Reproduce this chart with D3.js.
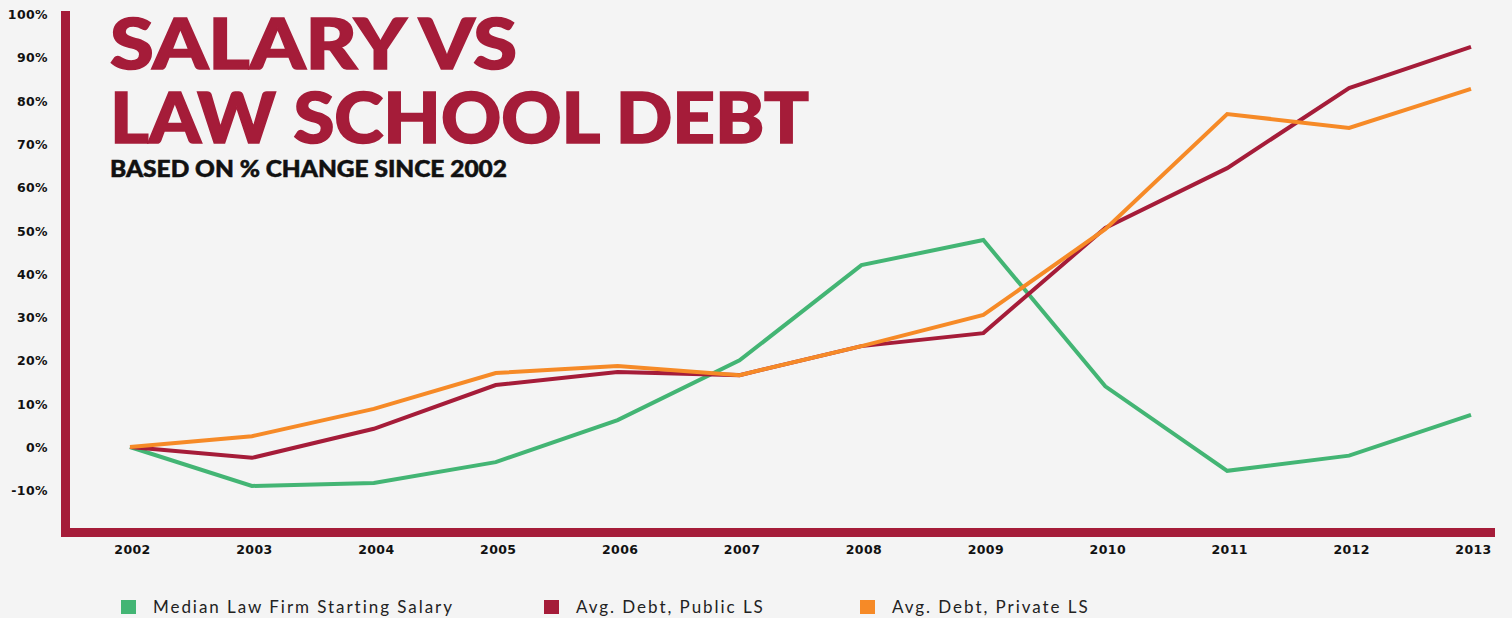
<!DOCTYPE html>
<html>
<head>
<meta charset="utf-8">
<script src="https://cdn.jsdelivr.net/npm/d3@7"></script>
<style>
  html, body { margin: 0; padding: 0; background: #f4f4f4; }
  svg { display: block; }
  .tick-label { font-family: "DejaVu Sans", sans-serif; font-weight: 700; font-size: 12.5px; fill: #111; letter-spacing: 0.4px; }
  .legend-text { font-family: Lato, sans-serif; font-weight: 400; font-size: 17px; fill: #222; letter-spacing: 1.95px; }
</style>
</head>
<body>
<div class="chart"></div>
<script>
var svgWidth = 1512;
var svgHeight = 618;

// data, % change since 2002
var years = ["2002", "2003", "2004", "2005", "2006", "2007", "2008", "2009", "2010", "2011", "2012", "2013"];
var salary = [0, -9, -8.3, -3.5, 6.2, 20, 42, 47.8, 14, -5.5, -2, 7.4];
var debtPublic = [0, -2.5, 4.2, 14.3, 17.3, 16.6, 23.3, 26.3, 50.6, 64.4, 82.9, 92.4];
var debtPrivate = [0, 2.5, 8.8, 17.1, 18.7, 16.6, 23.3, 30.5, 50.3, 76.9, 73.7, 82.7];
var yTicks = [-10, 0, 10, 20, 30, 40, 50, 60, 70, 80, 90, 100];

var seriesNames = ["Median Law Firm Starting Salary", "Avg. Debt, Public LS", "Avg. Debt, Private LS"];
var seriesColors = ["#43b574", "#a51c39", "#f68a27"];
var seriesValues = [salary, debtPublic, debtPrivate];

var svg = d3.select(".chart")
  .append("svg")
  .attr("width", svgWidth)
  .attr("height", svgHeight);

svg.append("rect")
  .attr("width", svgWidth)
  .attr("height", svgHeight)
  .attr("fill", "#f4f4f4");

// scales
var x = d3.scalePoint()
  .domain(years)
  .range([130, 1471]);

var y = d3.scaleLinear()
  .domain([-10, 100])
  .range([490.3, 14]);

// frame (thick L shape)
var frameColor = "#a51c39";
svg.append("rect")
  .attr("x", 61).attr("y", 11)
  .attr("width", 9).attr("height", 526)
  .attr("fill", frameColor);
svg.append("rect")
  .attr("x", 61).attr("y", 528)
  .attr("width", 1434).attr("height", 9)
  .attr("fill", frameColor);

// y axis labels
var leftAxis = d3.axisLeft(y)
  .tickValues(yTicks)
  .tickSize(0)
  .tickPadding(0)
  .tickFormat(d => d + "%");

var yAxisG = svg.append("g")
  .attr("transform", "translate(48,0)")
  .call(leftAxis);
yAxisG.select(".domain").remove();
yAxisG.selectAll("text")
  .attr("class", "tick-label")
  .attr("dy", "0.36em")
  .attr("font-family", null)
  .attr("font-size", null);

// x axis labels
var bottomAxis = d3.axisBottom(x)
  .tickSize(0)
  .tickPadding(0);

var xAxisG = svg.append("g")
  .attr("transform", "translate(2,554)")
  .call(bottomAxis);
xAxisG.select(".domain").remove();
xAxisG.selectAll("text")
  .attr("class", "tick-label")
  .attr("dy", 0)
  .attr("y", 0)
  .attr("font-family", null)
  .attr("font-size", null);

// lines
var line = d3.line()
  .x((d, i) => x(years[i]))
  .y(d => y(d));

seriesValues.forEach(function(vals, i) {
  svg.append("path")
    .datum(vals)
    .attr("d", line)
    .attr("fill", "none")
    .attr("stroke", seriesColors[i])
    .attr("stroke-width", 4)
    .attr("stroke-linejoin", "miter");
});

// title
var titleColor = "#a51c39";
svg.append("text")
  .attr("x", 110).attr("y", 68.5)
  .attr("font-family", "Lato, sans-serif")
  .attr("font-weight", 900)
  .attr("font-size", 70)
  .attr("fill", titleColor)
  .attr("stroke", titleColor)
  .attr("stroke-width", 1.6)
  .attr("textLength", 407)
  .attr("lengthAdjust", "spacingAndGlyphs")
  .text("SALARY VS");

svg.append("text")
  .attr("x", 110).attr("y", 143)
  .attr("font-family", "Lato, sans-serif")
  .attr("font-weight", 900)
  .attr("font-size", 70)
  .attr("fill", titleColor)
  .attr("stroke", titleColor)
  .attr("stroke-width", 1.6)
  .attr("textLength", 699)
  .attr("lengthAdjust", "spacingAndGlyphs")
  .text("LAW SCHOOL DEBT");

svg.append("text")
  .attr("x", 110).attr("y", 177)
  .attr("font-family", "Lato, sans-serif")
  .attr("font-weight", 900)
  .attr("font-size", 22)
  .attr("fill", "#111")
  .attr("stroke", "#111")
  .attr("stroke-width", 0.5)
  .attr("textLength", 397)
  .attr("lengthAdjust", "spacingAndGlyphs")
  .text("BASED ON % CHANGE SINCE 2002");

// legend
var legendX = [121, 544, 860];
var legend = svg.selectAll(".legend")
  .data(seriesNames)
  .enter()
  .append("g")
  .attr("class", "legend")
  .attr("transform", (d, i) => `translate(${legendX[i]}, 600)`);

legend.append("rect")
  .attr("width", 15)
  .attr("height", 14)
  .attr("fill", (d, i) => seriesColors[i]);

legend.append("text")
  .attr("class", "legend-text")
  .attr("x", 32)
  .attr("y", 12.7)
  .text(d => d);
</script>
</body>
</html>
